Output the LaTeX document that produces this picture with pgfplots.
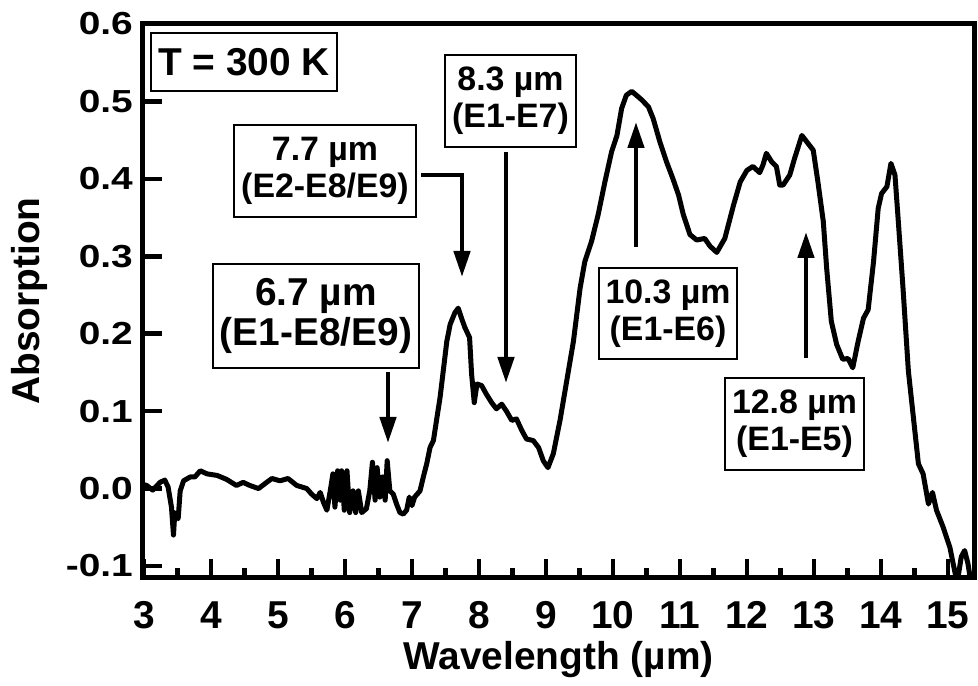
\documentclass[border=0pt]{standalone}
\usepackage{fontspec}
\setmainfont{Liberation Sans}
\usepackage{graphicx}
\usepackage{pgfplots}
\pgfplotsset{compat=1.18}
\usetikzlibrary{arrows.meta}
\newcommand{\ys}[1]{\scalebox{1}[0.82]{#1}}
\begin{document}
\begin{tikzpicture}[x=1bp,y=1bp]
\path[use as bounding box] (-143,-108) rectangle (835,578);
\begin{axis}[
  at={(0,0)}, anchor=south west,
  scale only axis, width=831bp, height=554bp,
  xmin=2.985, xmax=15.39, ymin=-0.1155, ymax=0.6,
  axis line style={line width=5bp, black},
  xtick={3,4,5,6,7,8,9,10,11,12,13,14,15},
  xticklabels={3,4,5,6,7,8,9,10,11,12,13,14,15},
  minor xtick={3.5,4.5,5.5,6.5,7.5,8.5,9.5,10.5,11.5,12.5,13.5,14.5},
  ytick={-0.1,0,0.1,0.2,0.3,0.4,0.5,0.6},
  yticklabels={\ys{-0.1},\ys{0.0},\ys{0.1},\ys{0.2},\ys{0.3},\ys{0.4},\ys{0.5},\ys{0.6}},
  xtick pos=bottom, ytick pos=left,
  tick align=inside,
  major tick length=19bp, minor tick length=10bp,
  every tick/.style={line width=4.5bp, black},
  ticklabel style={font=\fontsize{39}{39}\selectfont\bfseries},
  xticklabel style={anchor=base, inner sep=0pt, yshift=-51bp},
  yticklabel style={anchor=east, inner sep=0pt, xshift=-10bp},
  xlabel={Wavelength (µm)}, ylabel={Absorption},
  label style={font=\fontsize{39}{39}\selectfont\bfseries},
  xlabel style={at={(axis description cs:0.5,-0.166)}, anchor=base},
  ylabel style={at={(axis description cs:-0.124,0.5)}, anchor=base},
]
\addplot[line width=5bp, line join=round, line cap=round, black, no marks] coordinates {
(3.00,0.005) (3.04,0.004) (3.13,-0.002) (3.24,0.008) (3.31,0.011) (3.36,0.002)
(3.41,-0.024) (3.44,-0.060) (3.46,-0.031) (3.51,-0.039) (3.54,-0.003) (3.59,0.010)
(3.69,0.015) (3.76,0.015) (3.84,0.023) (3.94,0.019) (4.09,0.017) (4.23,0.012)
(4.38,0.004) (4.48,0.008) (4.58,0.004) (4.71,0.000) (4.83,0.008) (4.91,0.013)
(5.03,0.010) (5.15,0.013) (5.28,0.004) (5.43,0.000) (5.50,-0.007) (5.58,-0.013)
(5.63,-0.005) (5.68,-0.018) (5.73,-0.028) (5.78,-0.003) (5.82,0.019) (5.85,-0.024)
(5.89,0.023) (5.93,-0.015) (5.95,0.023) (5.99,-0.028) (6.03,0.023) (6.07,-0.031)
(6.12,-0.003) (6.16,-0.031) (6.20,-0.003) (6.25,-0.031) (6.32,-0.026) (6.37,-0.003)
(6.41,0.034) (6.45,-0.015) (6.48,0.027) (6.52,-0.011) (6.56,0.015) (6.60,-0.015)
(6.63,0.036) (6.67,-0.003) (6.72,-0.007) (6.77,-0.020) (6.82,-0.031) (6.87,-0.033)
(6.92,-0.028) (6.96,-0.011) (7.00,-0.022) (7.04,-0.011) (7.12,-0.003) (7.17,0.015)
(7.22,0.032) (7.27,0.053) (7.32,0.062) (7.42,0.118) (7.52,0.190) (7.57,0.212)
(7.64,0.227) (7.69,0.233) (7.74,0.220) (7.79,0.208) (7.86,0.195) (7.89,0.148)
(7.93,0.111) (7.97,0.135) (8.04,0.133) (8.11,0.122) (8.19,0.111) (8.26,0.103)
(8.34,0.109) (8.41,0.100) (8.49,0.088) (8.56,0.090) (8.64,0.075) (8.71,0.064)
(8.81,0.062) (8.89,0.053) (8.96,0.036) (9.03,0.027) (9.11,0.045) (9.21,0.088)
(9.31,0.139) (9.41,0.190) (9.51,0.259) (9.58,0.293) (9.68,0.319) (9.78,0.354)
(9.88,0.396) (9.98,0.435) (10.06,0.456) (10.13,0.491) (10.20,0.508) (10.28,0.513)
(10.35,0.508) (10.43,0.502) (10.53,0.493) (10.60,0.478) (10.70,0.448) (10.80,0.422)
(10.90,0.399) (10.98,0.379) (11.05,0.354) (11.15,0.328) (11.25,0.321) (11.37,0.323)
(11.45,0.313) (11.55,0.305) (11.67,0.323) (11.80,0.366) (11.90,0.396) (12.00,0.411)
(12.09,0.416) (12.19,0.408) (12.24,0.418) (12.29,0.433) (12.37,0.422) (12.44,0.416)
(12.49,0.392) (12.54,0.392) (12.64,0.405) (12.71,0.426) (12.82,0.456) (12.91,0.446)
(12.99,0.437) (13.06,0.396) (13.14,0.345) (13.19,0.285) (13.26,0.216) (13.34,0.186)
(13.43,0.167) (13.51,0.168) (13.58,0.156) (13.66,0.190) (13.74,0.220) (13.81,0.231)
(13.89,0.293) (13.96,0.362) (14.01,0.381) (14.09,0.390) (14.15,0.420) (14.21,0.405)
(14.26,0.345) (14.33,0.259) (14.41,0.152) (14.48,0.096) (14.56,0.032) (14.63,0.019)
(14.71,-0.020) (14.77,-0.005) (14.83,-0.028) (14.93,-0.050) (15.03,-0.076) (15.10,-0.106)
(15.14,-0.121) (15.20,-0.088) (15.25,-0.080) (15.30,-0.097) (15.35,-0.125)
};
\end{axis}
\tikzset{lab/.style={draw, line width=2bp, inner sep=0pt, align=center},
         arr/.style={line width=4.5bp, -{Triangle[width=16bp,length=26bp]}}}
\node[lab, minimum width=186bp, minimum height=58bp, font=\fontsize{39}{39}\selectfont\bfseries] at (101,516) {T = 300 K};
\node[lab, minimum width=182bp, minimum height=92bp, font=\fontsize{34}{37}\selectfont\bfseries] at (182,407) {7.7 µm\\(E2-E8/E9)};
\node[lab, minimum width=206bp, minimum height=104bp, font=\fontsize{39}{41}\selectfont\bfseries] at (173,262) {6.7 µm\\(E1-E8/E9)};
\node[lab, minimum width=131bp, minimum height=92bp, font=\fontsize{34}{37}\selectfont\bfseries] at (367.5,477) {8.3 µm\\(E1-E7)};
\node[lab, minimum width=138bp, minimum height=91bp, font=\fontsize{34}{37}\selectfont\bfseries] at (525,264.5) {10.3 µm\\(E1-E6)};
\node[lab, minimum width=139bp, minimum height=92bp, font=\fontsize{34}{37}\selectfont\bfseries] at (651.5,154) {12.8 µm\\(E1-E5)};
\draw[arr] (278,403) -- (319,403) -- (319,301);
\draw[arr] (245,206) -- (245,135);
\draw[arr] (363,426) -- (363,195);
\draw[arr] (493,331) -- (493,456);
\draw[arr] (663,220) -- (663,346);
\end{tikzpicture}
\end{document}
